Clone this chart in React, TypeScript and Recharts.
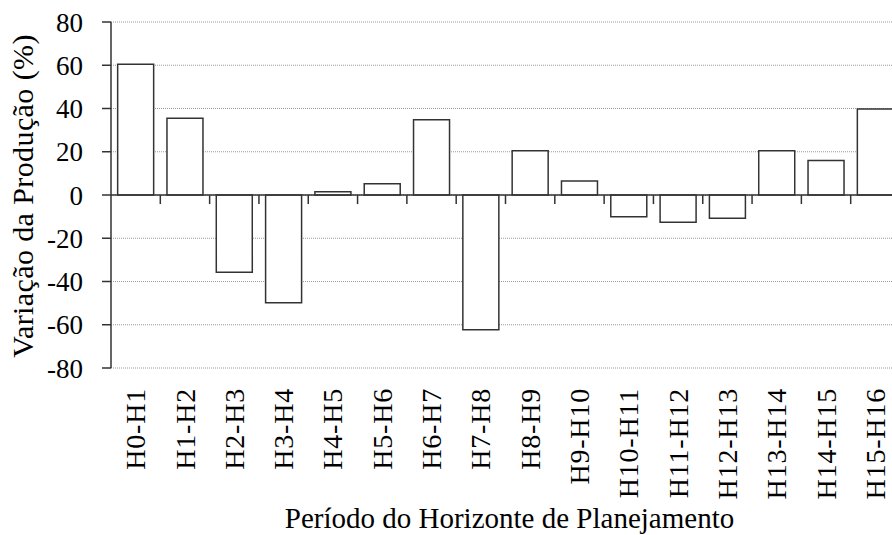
import React from "react";
import {
  BarChart,
  Bar,
  XAxis,
  YAxis,
  CartesianGrid,
  ReferenceLine,
  Label,
} from "recharts";

const categories: string[] = [
  "H0-H1", "H1-H2", "H2-H3", "H3-H4", "H4-H5", "H5-H6", "H6-H7", "H7-H8",
  "H8-H9", "H9-H10", "H10-H11", "H11-H12", "H12-H13", "H13-H14", "H14-H15", "H15-H16",
];

const variacao: number[] = [
  60.5, 35.5, -35.7, -49.8, 1.5, 5.2, 34.8, -62.3,
  20.5, 6.5, -10.1, -12.6, -10.8, 20.5, 15.9, 39.8,
];

const yTicks: number[] = [-80, -60, -40, -20, 0, 20, 40, 60, 80];

const yAxisTitle = "Variação da Produção (%)";
const xAxisTitle = "Período do Horizonte de Planejamento";

const data = categories.map((name, i) => ({ name, value: variacao[i] }));

const FONT = "'Liberation Serif', 'DejaVu Serif', 'Noto Serif', serif";
const DARK = "#333333";
const TICK_LEN = 4.2; // in value units (short marks below the zero line)

const XTick = (props: any) => {
  const { x, y, payload } = props;
  return (
    <g transform={`translate(${x},${y})`}>
      <text
        transform="rotate(-90)"
        textAnchor="end"
        dy="0.34em"
        style={{ fontFamily: FONT, fontSize: 28, letterSpacing: 0.8 }}
        fill="#000"
      >
        {payload.value}
      </text>
    </g>
  );
};

const XTitle = (props: any) => {
  const vb = props.viewBox || {};
  const cx = vb.x + vb.width / 2 + 4;
  const cy = vb.y + vb.height - 7;
  return (
    <text
      x={cx}
      y={cy}
      textAnchor="middle"
      style={{ fontFamily: FONT, fontSize: 29 }}
      fill="#000"
    >
      {xAxisTitle}
    </text>
  );
};

const YTitle = (props: any) => {
  const vb = props.viewBox || {};
  const cx = vb.x + 33;
  const cy = vb.y + vb.height / 2 + 1;
  return (
    <text
      x={cx}
      y={cy}
      transform={`rotate(-90, ${cx}, ${cy})`}
      textAnchor="middle"
      style={{ fontFamily: FONT, fontSize: 30, letterSpacing: 0.4 }}
      fill="#000"
    >
      {yAxisTitle}
    </text>
  );
};

export default function App() {
  return (
    <div
      style={{
        position: "fixed",
        left: 0,
        top: 0,
        width: 892,
        height: 535,
        overflow: "hidden",
        background: "#fff",
        fontFamily: FONT,
      }}
    >
      <BarChart
        width={900}
        height={535}
        data={data}
        margin={{ top: 22, right: 0, left: 0, bottom: 0 }}
        barCategoryGap="13.5%"
        style={{ fontFamily: FONT }}
      >
        <CartesianGrid
          vertical={false}
          stroke="#9a9a9a"
          strokeDasharray="1 1"
        />
        <XAxis
          dataKey="name"
          interval={0}
          height={167}
          axisLine={false}
          tickLine={false}
          tickSize={0}
          tickMargin={20}
          tick={<XTick />}
        >
          <Label content={<XTitle />} />
        </XAxis>
        <YAxis
          width={111}
          domain={[-80, 80]}
          ticks={yTicks}
          interval={0}
          allowDataOverflow
          axisLine={{ stroke: DARK, strokeWidth: 1.5 }}
          tickLine={{ stroke: DARK, strokeWidth: 1.5 }}
          tickSize={9}
          tickMargin={19}
          tick={{ style: { fontFamily: FONT }, fontSize: 27, fill: "#000" }}
        >
          <Label content={<YTitle />} />
        </YAxis>
        <Bar
          dataKey="value"
          fill="#ffffff"
          stroke={DARK}
          strokeWidth={1.5}
          isAnimationActive={false}
        />
        <ReferenceLine y={0} stroke={DARK} strokeWidth={1.5} />
        {categories.slice(0, categories.length - 1).map((c) => (
          <ReferenceLine
            key={c}
            segment={[
              { x: c, y: 0 },
              { x: c, y: -TICK_LEN },
            ]}
            position="end"
            stroke={DARK}
            strokeWidth={1.5}
          />
        ))}
      </BarChart>
    </div>
  );
}
